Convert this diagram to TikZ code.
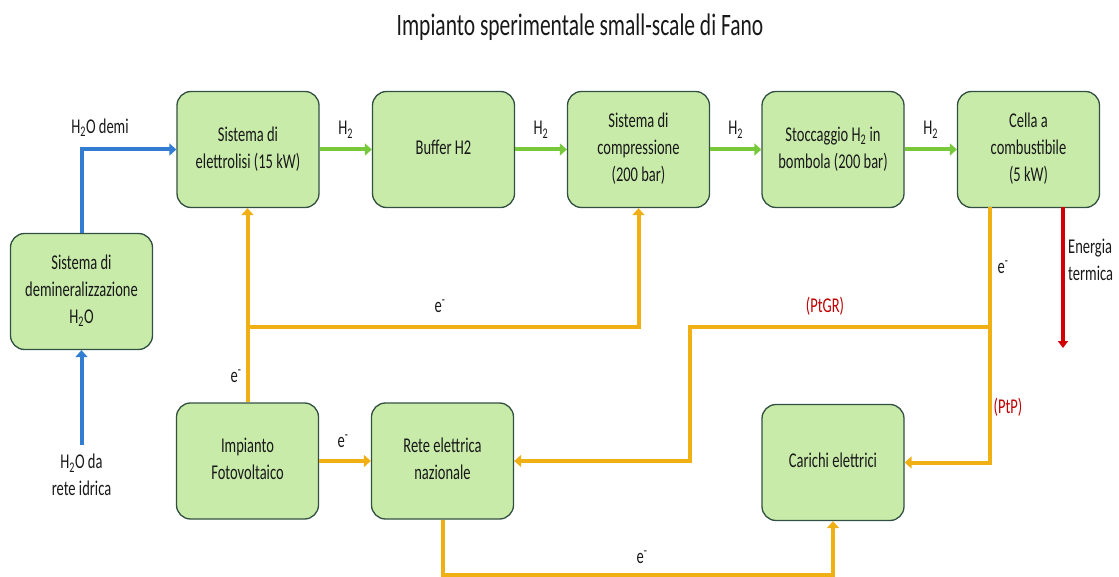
\documentclass[tikz,border=0pt]{standalone}
\usepackage{fontspec}
\setmainfont{Carlito}
\usepackage{graphicx}
\usetikzlibrary{arrows.meta}

\definecolor{boxfill}{RGB}{200,235,170}
\definecolor{boxline}{RGB}{50,80,65}
\definecolor{htwo}{RGB}{120,200,60}
\definecolor{water}{RGB}{50,125,210}
\definecolor{elec}{RGB}{240,176,20}
\definecolor{heat}{RGB}{210,0,0}
\definecolor{tagred}{RGB}{192,0,0}
\definecolor{ink}{RGB}{25,25,25}

\newcommand{\tall}[2][c]{\scalebox{1}[1.45]{\begin{tabular}{@{}#1@{}}#2\end{tabular}}}
\newcommand{\el}{e\textsuperscript{-}}

\tikzset{
	blocco/.style={draw=boxline, line width=1.3pt, fill=boxfill, rounded corners=14pt,
		minimum width=142pt, minimum height=116pt, inner sep=0pt, text=ink,
		font=\fontsize{14.5}{18.6}\selectfont},
	lbl/.style={text=ink, inner sep=0pt, font=\fontsize{14.5}{18.6}\selectfont},
	flow/.style={line width=4pt, -{Triangle[length=7pt,width=12pt]}},
	acqua/.style={flow, water},
	idro/.style={flow, htwo},
	elet/.style={flow, elec},
	calore/.style={line width=3.2pt, heat, -{Triangle[length=7pt,width=10pt]}}
}

\begin{document}
\begin{tikzpicture}[x=1pt, y=-1pt]
	\useasboundingbox (0,0) rectangle (1119,577);

	\node[lbl, font=\fontsize{21.5}{26}\selectfont] (titolo) at (580,28) {\tall{Impianto sperimentale small-scale di Fano}};

	% blocks
	\node[blocco] (demi) at (81.5,291.5) {\tall{Sistema di\\demineralizzazione\\H\textsubscript{2}O}};
	\node[blocco] (elettro) at (248,149.5) {\tall{Sistema di\\elettrolisi (15 kW)}};
	\node[blocco] (buffer) at (443.5,149.5) {\tall{Buffer H2}};
	\node[blocco] (compr) at (638.5,149.5) {\tall{Sistema di\\compressione\\(200 bar)}};
	\node[blocco] (stocc) at (833,149.5) {\tall{Stoccaggio H\textsubscript{2} in\\bombola (200 bar)}};
	\node[blocco] (cella) at (1028.5,149.5) {\tall{Cella a\\combustibile\\(5 kW)}};
	\node[blocco] (fotov) at (247.5,461) {\tall{Impianto\\Fotovoltaico}};
	\node[blocco] (rete) at (442.5,461) {\tall{Rete elettrica\\nazionale}};
	\node[blocco] (carichi) at (833,462.5) {\tall{Carichi elettrici}};

	% water
	\coordinate (fonte) at (81.5,445);
	\draw[acqua] (fonte) -- (demi.south);
	\node[lbl] (fonte lbl) at (81.5,477) {\tall{H\textsubscript{2}O da\\rete idrica}};
	\draw[acqua] (demi.north) |- (elettro.west);
	\node[lbl] (demi lbl) at (100,128) {\tall{H\textsubscript{2}O demi}};

	% hydrogen
	\foreach \a/\b in {elettro/buffer,buffer/compr,compr/stocc,stocc/cella}{
	\draw[idro] (\a) -- (\b) node[lbl, midway, yshift=20pt] (h2 \a) {\tall{H\textsubscript{2}}};}

	% electricity
	\coordinate (nodo pv) at (247.5,327);
	\coordinate (fc out) at (990,207.5);
	\coordinate (nodo fc) at (990,327);
	\coordinate (gomito) at (690,327);
	\draw[elet] (fotov.north) -- (fotov.north |- elettro.south);
	\draw[elet] (nodo pv) -| (compr.south);
	\draw[elet] (fotov.east) -- (rete.west);
	\draw[elet] (fc out) |- (carichi.east);
	\draw[elet] (nodo fc) -- (gomito) |- (rete.east);
	\draw[elet] (rete.south) -- ++(0,55) -| (carichi.south);

	\node[lbl] (e1) at (236,377) {\tall{\el}};
	\node[lbl] (e2) at (440,307) {\tall{\el}};
	\node[lbl] (e3) at (343,442) {\tall{\el}};
	\node[lbl] (e4) at (1003,268) {\tall{\el}};
	\node[lbl] (e5) at (642,558) {\tall{\el}};
	\node[lbl, text=tagred] (ptgr) at (825,307) {\tall{(PtGR)}};
	\node[lbl, text=tagred] (ptp) at (1008,408) {\tall{(PtP)}};

	% heat
	\coordinate (fc heat) at (1063,207.5);
	\coordinate (heat end) at (1063,348);
	\draw[calore] (fc heat) -- (heat end);
	\node[lbl, anchor=west] (termica) at (1068,262) {\tall[l]{Energia\\termica}};

\end{tikzpicture}
\end{document}
